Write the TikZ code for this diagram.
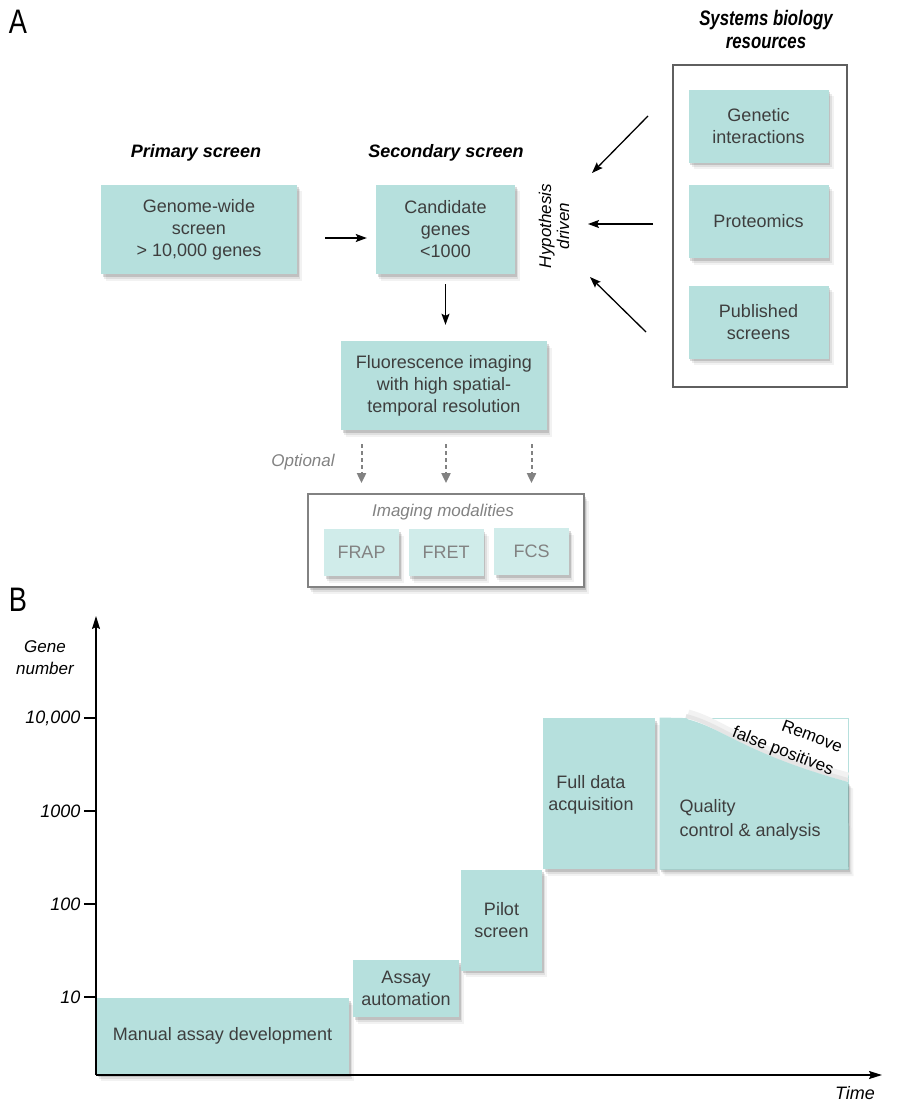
\documentclass[tikz,border=0pt]{standalone}
\usepackage{fontspec}
\setmainfont{Liberation Sans}
\newfontfamily\narrowfont[FakeStretch=0.8]{Liberation Sans}
\usetikzlibrary{calc,arrows.meta,shadows}
\definecolor{boxteal}{RGB}{182,224,221}
\definecolor{paleteal}{RGB}{208,236,234}
\definecolor{boxtext}{RGB}{62,62,62}
\definecolor{modgray}{RGB}{130,130,130}
\definecolor{framegray}{RGB}{95,95,95}
\tikzset{
      soft shadow/.style={                                   % three faint copies give a blurred look
                  drop shadow={shadow xshift=1.5pt,shadow yshift=-2.5pt,opacity=.14,fill=black},
                  drop shadow={shadow xshift=3pt,shadow yshift=-4.5pt,opacity=.08,fill=black},
                  drop shadow={shadow xshift=5pt,shadow yshift=-6.5pt,opacity=.05,fill=black}},
      tealbox/.style={fill=boxteal,text=boxtext,align=center,inner sep=0pt,
                  font=\fontsize{18}{22}\selectfont,soft shadow},
      palebox/.style={fill=paleteal,text=modgray,align=center,inner sep=0pt,
                  font=\fontsize{18}{22}\selectfont,soft shadow,
                  minimum width=75pt,minimum height=47pt},
      heading/.style={font=\bfseries\itshape\fontsize{18}{22}\selectfont},
      note/.style={font=\itshape\fontsize{17}{19}\selectfont},
      panellabel/.style={font=\narrowfont\fontsize{34}{34}\selectfont},
      flowarrow/.style={line width=1.3pt,-{Stealth[length=11pt,width=8pt,inset=2pt]}},
      optarrow/.style={draw=modgray,line width=2pt,dash pattern=on 4pt off 3pt,
                  -{Triangle[length=10pt,width=9pt]}},
      axisline/.style={line width=1.5pt,-{Stealth[length=13pt,width=8pt,inset=2pt]}}
}
\begin{document}
\begin{tikzpicture}[x=1pt,y=-1pt]
                  \useasboundingbox (0,0) rectangle (899,1102);
                  % panel A: screening pipeline
                  \node[panellabel] (labA) at (18,22) {A};
                  \node[heading] (prim) at (196,153) {Primary screen};
                  \node[heading] (sec) at (446,153) {Secondary screen};
                  \node[heading,font=\narrowfont\bfseries\itshape\fontsize{21}{23}\selectfont,align=center] (sysres) at (766,29) {Systems biology\\resources};
                  \node[tealbox,minimum width=196pt,minimum height=89pt] (gen) at (199,229.5) {Genome-wide\\screen\\> 10,000 genes};
                  \node[tealbox,minimum width=139pt,minimum height=89pt] (cand) at (445.5,229.5) {Candidate\\genes\\<1000};
                  \node[tealbox,minimum width=206pt,minimum height=89pt] (fluo) at (444,385.5) {Fluorescence imaging\\with high spatial-\\temporal resolution};
                  \draw[flowarrow] ($(gen.east)+(28,8.5)$) -- ($(cand.west)+(-9,8.5)$);
                  \draw[flowarrow,shorten <=10pt,shorten >=16pt] (cand.south) -- (cand.south |- fluo.north);

                  % systems biology resources
                  \node[draw=framegray,line width=2.5pt,minimum width=174pt,minimum height=322pt] (resbox) at (760,226) {};
                  \node[tealbox,minimum width=140pt,minimum height=73pt] (genint) at (758.5,126.5) {Genetic\\interactions};
                  \node[tealbox,minimum width=140pt,minimum height=73pt] (prot) at (758.5,221.5) {Proteomics};
                  \node[tealbox,minimum width=140pt,minimum height=73pt] (publ) at (758.5,322) {Published\\screens};
                  \node[note,rotate=90,align=center,font=\itshape\fontsize{17}{18}\selectfont] (hyp) at (554,226) {Hypothesis\\driven};
                  \coordinate (t1) at (648,116);
                  \coordinate (h1) at (592,173);
                  \coordinate (t2) at (653,224);
                  \coordinate (h2) at (588,224);
                  \coordinate (t3) at (646,332);
                  \coordinate (h3) at (590,277);
                  \draw[flowarrow] (t1) -- (h1);
                  \draw[flowarrow] (t2) -- (h2);
                  \draw[flowarrow] (t3) -- (h3);

                  % optional imaging modalities
                  \node[note,text=modgray] (opt) at (303,462) {Optional};
                  \node[draw=modgray,line width=1.8pt,fill=white,soft shadow,minimum width=276pt,minimum height=93pt] (modbox) at (446,540.5) {};
                  \node[note,text=modgray] (modtitle) at (443,512) {Imaging modalities};
                  \node[palebox] (frap) at (361.5,552.5) {FRAP};
                  \node[palebox] (fret) at (446,552.5) {FRET};
                  \node[palebox] (fcs) at (531.5,551.5) {FCS};
                  \foreach \m in {frap,fret,fcs}
                        \draw[optarrow,shorten <=14pt,shorten >=10pt] (fluo.south -| \m) -- (modbox.north -| \m);

                  % panel B: gene number over time
                  \node[panellabel] (labB) at (18,600) {B};
                  \node[tealbox,minimum width=253pt,minimum height=76pt] (manual) at (222.5,1036) {Manual assay development};
                  \node[tealbox,minimum width=106pt,minimum height=57pt] (autom) at (406,988.5) {Assay\\automation};
                  \node[tealbox,minimum width=81pt,minimum height=101pt] (pilot) at (501.5,920) {Pilot\\screen};
                  \node[tealbox,minimum width=112pt,minimum height=151pt] (full) at (599,793.5) {};
                  \node[text=boxtext,align=center,font=\fontsize{18}{22}\selectfont] (fulltxt) at (591,795) {Full data\\acquisition};
                  % quality control box with its peeled corner
                  \node[draw=boxteal,line width=1pt,minimum width=188pt,minimum height=151pt] (qc) at (754,793.5) {};
                  \draw[black!5,line width=9pt] (688,714) .. controls (725,724) and (740,748) .. (848,777);
                  \draw[black!10,line width=4pt] (686,716) .. controls (725,726) and (740,750) .. (848,780);
                  \fill[boxteal,soft shadow] (qc.north west) -- (683,718) .. controls (725,728) and (740,752) .. (848,782) -- (qc.south east) -- (qc.south west) -- cycle;
                  \node[text=boxtext,align=left,anchor=west,font=\fontsize{18}{24}\selectfont] (qctxt) at (676,820) {Quality\\control \& analysis};
                  \node[rotate=-21,align=right,font=\fontsize{17}{24}\selectfont] (remove) at (787,741) {Remove\\false positives};

                  % axes
                  \coordinate (orig) at (96,1075);
                  \coordinate (ytop) at (96,616);
                  \coordinate (xend) at (882,1075);
                  \draw[axisline] (orig) -- (ytop);
                  \draw[axisline] (orig) -- (xend);
                  \foreach \y/\lab [count=\i] in {997/10,904/100,811/1000,718/{10,000}} {
                        \draw[line width=1.3pt] (84,\y) -- (96,\y);
                        \node[note,anchor=east,font=\itshape\fontsize{18}{20}\selectfont] (tick\i) at (84,\y) {\lab};
                  }
                  \node[note,align=center,font=\itshape\fontsize{17}{22}\selectfont] (gnum) at (45,658) {Gene\\number};
                  \node[note,font=\itshape\fontsize{18}{20}\selectfont] (time) at (855,1093) {Time};
\end{tikzpicture}
\end{document}
